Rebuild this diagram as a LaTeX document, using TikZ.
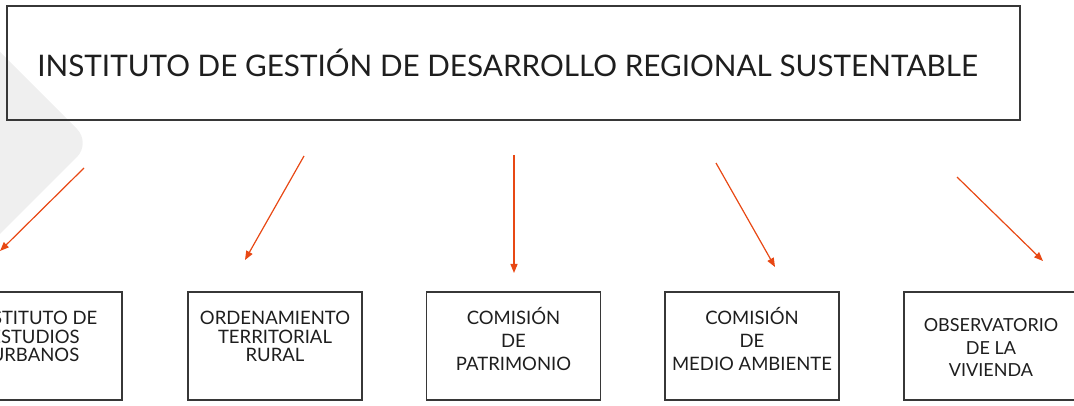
\documentclass[tikz,border=0pt]{standalone}
\usepackage{fontspec}
\setmainfont{Lato}
\usetikzlibrary{arrows.meta}
\definecolor{arr}{RGB}{232,72,20}
\definecolor{bgshape}{RGB}{239,239,239}
\definecolor{frame}{RGB}{55,55,55}
\definecolor{ink}{RGB}{30,30,30}
\begin{document}
\begin{tikzpicture}[x=1pt,y=-1pt,
  box/.style={draw=frame,line width=1.3pt,minimum width=174pt,minimum height=108pt,inner sep=0pt},
  lbl/.style={align=center,inner sep=0pt,text depth=0pt,anchor=south,text=ink,font=\fontsize{18.5}{18.5}\selectfont},
  lblwide/.style={lbl,font=\fontsize{18.5}{23}\selectfont},
  conn/.style={draw=arr,line width=1.2pt,-{Triangle[length=9pt,width=7pt]}}]
\useasboundingbox (0,0) rectangle (1074,406);
\fill[bgshape,rounded corners=20pt] (-100,-48) -- (91,143) -- (-100,334) -- cycle;
% top box
\node[draw=frame,line width=1.3pt,minimum width=1013pt,minimum height=114pt,inner sep=0pt] (top) at (513.5,63) {};
\node[anchor=base,inner sep=0pt,text=ink,font=\fontsize{29.7}{36}\selectfont] (title) at (507.5,77) {INSTITUTO DE GESTIÓN DE DESARROLLO REGIONAL SUSTENTABLE};
% bottom boxes
\node[box] (b1) at (35,346) {};
\node[box] (b2) at (275,346) {};
\node[box] (b3) at (513.5,346) {};
\node[box] (b4) at (752,346) {};
\node[box] (b5) at (991,346) {};
\node[lbl] (t1) at (35,362) {INSTITUTO DE\\ESTUDIOS\\URBANOS};
\node[lbl] (t2) at (275,362) {ORDENAMIENTO\\TERRITORIAL\\RURAL};
\node[lblwide] (t3) at (513.5,371) {COMISIÓN\\DE\\PATRIMONIO};
\node[lblwide] (t4) at (752,371) {COMISIÓN\\DE\\MEDIO AMBIENTE};
\node[lblwide,font=\fontsize{18}{22.5}\selectfont] (t5) at (991,377) {OBSERVATORIO\\DE LA\\VIVIENDA};
% arrows
\coordinate (s1) at (84,168);  \coordinate (e1) at (0,251);
\coordinate (s2) at (304,156); \coordinate (e2) at (245,260);
\coordinate (s3) at (514,155); \coordinate (e3) at (514,273);
\coordinate (s4) at (716,163); \coordinate (e4) at (775,267);
\coordinate (s5) at (957,177); \coordinate (e5) at (1043,261);
\draw[conn] (s1) -- (e1);
\draw[conn] (s2) -- (e2);
\draw[conn] (s3) -- (e3);
\draw[conn] (s4) -- (e4);
\draw[conn] (s5) -- (e5);
\end{tikzpicture}
\end{document}
